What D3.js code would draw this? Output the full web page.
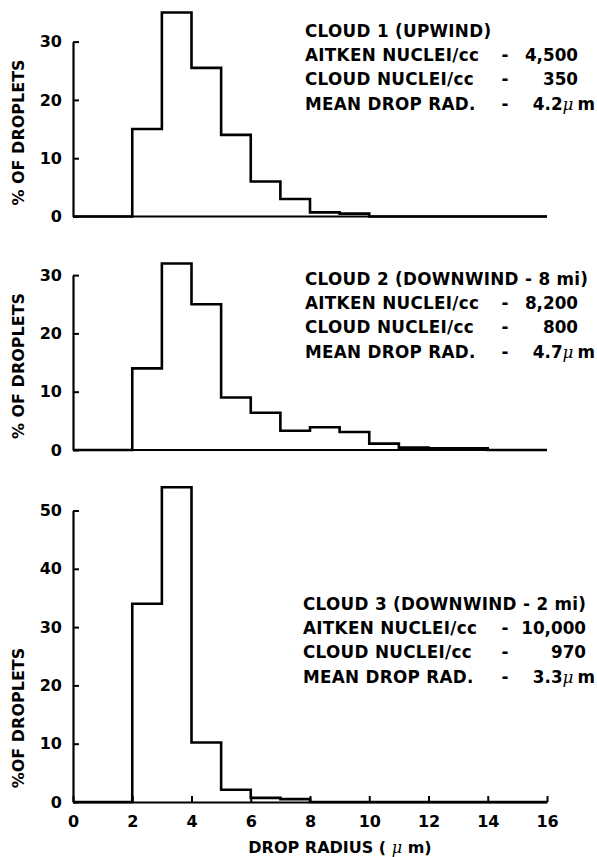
<!DOCTYPE html>
<html>
<head>
<meta charset="utf-8">
<script src="https://cdn.jsdelivr.net/npm/d3@7"></script>
<style>
  body { margin: 0; background: #fff; }
  text { font-family: "DejaVu Sans", sans-serif; font-weight: bold; fill: #000; }
  .info text { font-size: 16.8px; }
</style>
</head>
<body>
<script>
// percent of droplets in each 1 um radius bin, bins 0-1 ... 15-16
var binStarts = d3.range(0, 16);
var cloud1Pct = [0, 0, 15, 35, 25.5, 14, 6, 3, 0.7, 0.5, 0, 0, 0, 0, 0, 0];
var cloud2Pct = [0, 0, 14, 32, 25, 9, 6.4, 3.3, 3.9, 3.1, 1.1, 0.4, 0.3, 0.3, 0, 0];
var cloud3Pct = [0, 0, 34, 54, 10.2, 2.1, 0.7, 0.5, 0, 0, 0, 0, 0, 0, 0, 0];

var yTicks1 = [0, 10, 20, 30];
var yTicks3 = [0, 10, 20, 30, 40, 50];
var xTicks = [0, 2, 4, 6, 8, 10, 12, 14, 16];

var cloudTitles = ["CLOUD 1 (UPWIND)", "CLOUD 2 (DOWNWIND - 8 mi)", "CLOUD 3 (DOWNWIND - 2 mi)"];
var rowLabels = ["AITKEN NUCLEI/cc", "CLOUD NUCLEI/cc", "MEAN DROP RAD."];
var aitken = ["4,500", "8,200", "10,000"];
var cloudNuclei = ["350", "800", "970"];
var meanRad = ["4.2", "4.7", "3.3"];
var yLabels = ["% OF DROPLETS", "% OF DROPLETS", "%OF DROPLETS"];

var W = 597, H = 857;
var svg = d3.select("body").append("svg")
    .attr("width", W)
    .attr("height", H);

var x = d3.scaleLinear().domain([0, 16]).range([73, 547]);
var pxPerPct = 5.83;

var panels = [
    { pct: cloud1Pct, base: 216.5, top: 30, ticks: yTicks1, textY: 37, textX: 305, valX: 578 },
    { pct: cloud2Pct, base: 450, top: 30, ticks: yTicks1, textY: 285, textX: 305, valX: 578 },
    { pct: cloud3Pct, base: 802, top: 50, ticks: yTicks3, textY: 610, textX: 303, valX: 586 }
];

function mu(sel) {
    sel.append("tspan")
        .attr("font-style", "italic")
        .attr("font-weight", "normal")
        .attr("font-family", "'DejaVu Serif', serif")
        .text("\u03bc");
}

// widen text a little, like the wide lettering of the original
function spread(sel, gap) {
    sel.each(function() {
        var n = this.textContent.length;
        if (n < 2) return;
        var w = this.getComputedTextLength();
        d3.select(this)
            .attr("textLength", w + gap * (n - 1))
            .attr("lengthAdjust", "spacing");
    });
}

panels.forEach(function(p, i) {
    var y = d3.scaleLinear()
        .domain([0, p.top])
        .range([p.base, p.base - p.top * pxPerPct]);

    var g = svg.append("g");

    // y axis, ticks pointing in
    var yAxis = g.append("g")
        .attr("transform", "translate(" + x(0) + ",0)")
        .call(d3.axisLeft(y).tickValues(p.ticks).tickSize(-6).tickSizeOuter(0).tickPadding(11));
    yAxis.select(".domain").attr("stroke-width", 2.2);
    yAxis.selectAll(".tick line").attr("stroke-width", 2);
    yAxis.selectAll("text")
        .attr("font-size", 16)
        .attr("font-family", null);

    // baseline
    if (i < 2) {
        g.append("line")
            .attr("x1", x(0)).attr("x2", x(16))
            .attr("y1", y(0)).attr("y2", y(0))
            .attr("stroke", "#000").attr("stroke-width", 2);
    } else {
        var xAxis = g.append("g")
            .attr("transform", "translate(0," + y(0) + ")")
            .call(d3.axisBottom(x).tickValues(xTicks).tickSize(-6).tickSizeOuter(0).tickPadding(14));
        xAxis.select(".domain").attr("stroke-width", 2);
        xAxis.selectAll(".tick line").attr("stroke-width", 2);
        xAxis.selectAll("text")
            .attr("font-size", 16)
            .attr("font-family", null);
    }

    // histogram outline
    var pts = binStarts.map(function(b, j) { return [b, p.pct[j]]; });
    pts.push([16, p.pct[15]]);
    var line = d3.line()
        .x(function(d) { return x(d[0]); })
        .y(function(d) { return y(d[1]); })
        .curve(d3.curveStepAfter);
    g.append("path")
        .attr("d", line(pts))
        .attr("fill", "none")
        .attr("stroke", "#000")
        .attr("stroke-width", 2.6);

    // y label
    g.append("text")
        .attr("transform", "translate(24," + (p.base - 84) + ") rotate(-90)")
        .attr("text-anchor", "middle")
        .attr("font-size", 16)
        .text(yLabels[i]);

    // info block
    var info = g.append("g").attr("class", "info");
    var rowH = 24.2;
    info.append("text").attr("x", p.textX).attr("y", p.textY).text(cloudTitles[i]);
    rowLabels.forEach(function(lbl, r) {
        var ty = p.textY + rowH * (r + 1);
        info.append("text").attr("x", p.textX).attr("y", ty).text(lbl);
        info.append("text").attr("x", 505).attr("y", ty).attr("text-anchor", "middle").text("-");
    });
    spread(info.selectAll("text"), 0.3);
    info.append("text").attr("x", p.valX).attr("y", p.textY + rowH).attr("text-anchor", "end").text(aitken[i]);
    info.append("text").attr("x", p.valX).attr("y", p.textY + rowH * 2).attr("text-anchor", "end").text(cloudNuclei[i]);

    var mt = info.append("text").attr("x", 595).attr("y", p.textY + rowH * 3).attr("text-anchor", "end");
    mt.append("tspan").text(meanRad[i]);
    mu(mt);
    mt.append("tspan").attr("dx", 4).text("m");
});

// x axis title
var xt = svg.append("text")
    .attr("x", 340).attr("y", 853)
    .attr("text-anchor", "middle")
    .attr("font-size", 16);
xt.append("tspan").text("DROP RADIUS ( ");
mu(xt);
xt.append("tspan").text(" m)");
</script>
</body>
</html>
